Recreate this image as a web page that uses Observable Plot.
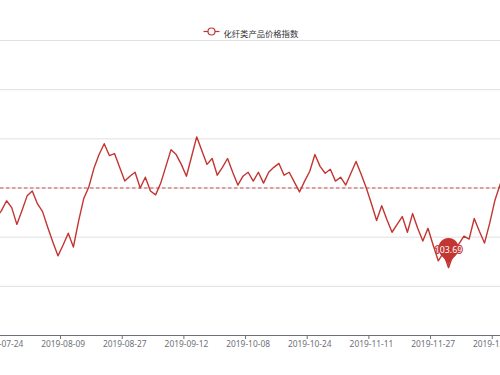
<!DOCTYPE html>
<html>
<head>
<meta charset="utf-8">
<script src="https://cdn.jsdelivr.net/npm/d3@7"></script>
<script src="https://cdn.jsdelivr.net/npm/@observablehq/plot@0.6"></script>
<style>
  html, body { margin: 0; padding: 0; background: #fff; }
</style>
</head>
<body>
<div id="chart"></div>
<script>
const seriesName = "化纤类产品价格指数";

const dates = [
  "2019-07-23","2019-07-24","2019-07-25","2019-07-26","2019-07-29","2019-07-30","2019-07-31",
  "2019-08-01","2019-08-02","2019-08-05","2019-08-06","2019-08-07","2019-08-08","2019-08-09",
  "2019-08-12","2019-08-13","2019-08-14","2019-08-15","2019-08-16","2019-08-19","2019-08-20",
  "2019-08-21","2019-08-22","2019-08-23","2019-08-26","2019-08-27","2019-08-28","2019-08-29",
  "2019-08-30","2019-09-02","2019-09-03","2019-09-04","2019-09-05","2019-09-06","2019-09-09",
  "2019-09-10","2019-09-11","2019-09-12","2019-09-16","2019-09-17","2019-09-18","2019-09-19",
  "2019-09-20","2019-09-23","2019-09-24","2019-09-25","2019-09-26","2019-09-27","2019-09-30",
  "2019-10-08","2019-10-09","2019-10-10","2019-10-11","2019-10-14","2019-10-15","2019-10-16",
  "2019-10-17","2019-10-18","2019-10-21","2019-10-22","2019-10-23","2019-10-24","2019-10-25",
  "2019-10-28","2019-10-29","2019-10-30","2019-10-31","2019-11-01","2019-11-04","2019-11-05",
  "2019-11-06","2019-11-07","2019-11-08","2019-11-11","2019-11-12","2019-11-13","2019-11-14",
  "2019-11-15","2019-11-18","2019-11-19","2019-11-20","2019-11-21","2019-11-22","2019-11-25",
  "2019-11-26","2019-11-27","2019-11-28","2019-11-29","2019-12-02","2019-12-03","2019-12-04",
  "2019-12-05","2019-12-06","2019-12-09","2019-12-10","2019-12-11","2019-12-12","2019-12-13",
  "2019-12-16","2019-12-17"
];

const values = [
  104.20,104.27,104.37,104.30,104.13,104.27,104.42,104.47,104.34,104.26,
  104.10,103.95,103.81,103.92,104.04,103.90,104.16,104.39,104.51,104.70,
  104.84,104.95,104.83,104.85,104.71,104.57,104.62,104.66,104.50,104.61,
  104.47,104.43,104.55,104.72,104.89,104.84,104.74,104.62,104.82,105.02,
  104.88,104.74,104.80,104.63,104.71,104.80,104.66,104.53,104.62,104.66,
  104.57,104.66,104.55,104.66,104.71,104.75,104.63,104.66,104.56,104.46,
  104.57,104.67,104.84,104.72,104.65,104.69,104.57,104.61,104.53,104.65,
  104.77,104.64,104.50,104.34,104.17,104.32,104.18,104.05,104.13,104.21,
  104.05,104.24,104.09,103.96,104.09,103.92,103.76,103.84,103.69,103.84,
  103.93,104.01,103.98,104.19,104.06,103.94,104.14,104.37,104.53,104.67
];

const averageValue = 104.5;
const yTicks = [103, 103.5, 104, 104.5, 105, 105.5, 106];
const xLabelDates = [
  "2019-07-24","2019-08-09","2019-08-27","2019-09-12","2019-10-08",
  "2019-10-24","2019-11-11","2019-11-27","2019-12-13"
];

const COLOR = "#c23531";
const AXIS = "#6e7079";

const data = values.map((v, i) => ({ i, date: dates[i], value: v }));
const labelIdx = xLabelDates.map(d => dates.indexOf(d));
const tickIdx = labelIdx.map(i => i - 0.5);
const minIdx = d3.minIndex(values);
const minPoint = [{ i: minIdx, value: values[minIdx], label: d3.format(".2f")(values[minIdx]) }];

// ECharts-like pin symbol (tip at origin)
const pinSymbol = {
  draw(ctx) {
    const size = 34;
    const w = size / 5 * 3, h = size, r = w / 2;
    const dy = r * r / (h - r);
    const cy = -h + r + dy;
    const angle = Math.asin(dy / r);
    const dx = Math.cos(angle) * r;
    const tanX = Math.sin(angle), tanY = Math.cos(angle);
    const cp = r * 0.6, cp2 = r * 0.7;
    ctx.moveTo(-dx, cy + dy);
    ctx.arc(0, cy, r, Math.PI - angle, Math.PI * 2 + angle);
    ctx.bezierCurveTo(dx - tanX * cp, cy + dy + tanY * cp, 0, -cp2, 0, 0);
    ctx.bezierCurveTo(0, -cp2, -dx + tanX * cp, cy + dy + tanY * cp, -dx, cy + dy);
    ctx.closePath();
  }
};
const legendLine = {
  draw(ctx) { ctx.moveTo(-8, 0); ctx.lineTo(8, 0); }
};

const chart = Plot.plot({
  width: 500,
  height: 375,
  marginTop: 40,
  marginBottom: 40,
  marginLeft: 0,
  marginRight: 0,
  style: { fontFamily: "'Noto Sans', 'Noto Sans CJK SC', sans-serif", background: "#fff", overflow: "visible" },
  x: { type: "linear", domain: [0.817, 98.112], label: null },
  y: { domain: [103, 106], axis: null, label: null },
  marks: [
    Plot.ruleY(yTicks.slice(1), { stroke: "#e0e0e0", strokeWidth: 1 }),
    Plot.ruleY([averageValue], { stroke: COLOR, strokeOpacity: 0.85, strokeWidth: 1, strokeDasharray: "3.5,2.5" }),
    Plot.line(data, { x: "i", y: "value", stroke: COLOR, strokeWidth: 1.4, clip: true, strokeLinejoin: "round" }),
    Plot.ruleY([103], { stroke: AXIS, strokeWidth: 1 }),
    Plot.axisX(tickIdx, { tickSize: 4, tickFormat: () => "", stroke: AXIS, label: null }),
    Plot.axisX(labelIdx, { tickSize: 0, tickPadding: 6, tickFormat: i => dates[i], fontSize: 8.4, fill: AXIS, textAnchor: "middle", label: null }),
    Plot.dot(minPoint, { x: "i", y: "value", symbol: pinSymbol, fill: COLOR, stroke: "none" }),
    Plot.text(minPoint, { x: "i", y: "value", text: "label", dy: -17, fill: "#fff", stroke: COLOR, strokeWidth: 2, fontSize: 8.8 }),
    // legend
    Plot.dot([0], { frameAnchor: "top-left", dx: 211, dy: -9, symbol: legendLine, stroke: COLOR, strokeWidth: 1.2 }),
    Plot.dot([0], { frameAnchor: "top-left", dx: 211, dy: -9, r: 3.5, fill: "#fff", stroke: COLOR, strokeWidth: 1.2 }),
    Plot.text([seriesName], { frameAnchor: "top-left", dx: 223, dy: -9, textAnchor: "start", fontSize: 8.3, fill: "#333", fontFamily: "'Noto Sans CJK SC', sans-serif" })
  ]
});
document.getElementById("chart").appendChild(chart);
</script>
</body>
</html>
